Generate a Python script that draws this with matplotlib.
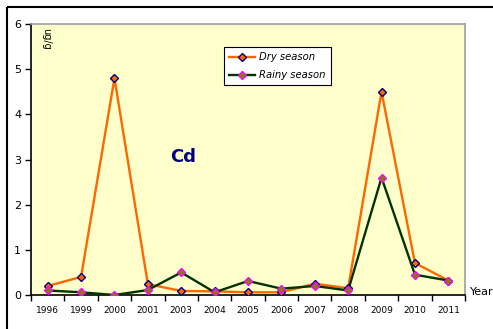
import matplotlib
matplotlib.use("Agg")
import matplotlib.pyplot as plt
from matplotlib.lines import Line2D

years = ["1996", "1999", "2000", "2001", "2003", "2004", "2005", "2006",
         "2007", "2008", "2009", "2010", "2011"]
dry = [0.2, 0.4, 4.8, 0.24, 0.09, 0.08, 0.06, 0.06, 0.25, 0.15, 4.5, 0.71, 0.32]
rainy = [0.1, 0.06, 0.0, 0.11, 0.5, 0.06, 0.31, 0.14, 0.2, 0.1, 2.6, 0.45, 0.32]

W, H = 493, 329
fig = plt.figure(figsize=(W / 100, H / 100), dpi=100)
fig.patch.set_facecolor("white")

# outer frame
fig.add_artist(Line2D([7 / W, 7 / W], [0, 1 - 7 / H], transform=fig.transFigure,
                      color="black", lw=1.5, solid_capstyle="butt"))
fig.add_artist(Line2D([7 / W, 1.01], [1 - 7 / H, 1 - 7 / H], transform=fig.transFigure,
                      color="black", lw=1.5, solid_capstyle="butt"))

left, right, top, bottom = 31, 465, 24, 295
ax = fig.add_axes([left / W, 1 - bottom / H, (right - left) / W, (bottom - top) / H])
ax.set_facecolor("#FFFFCC")

x = list(range(len(years)))
ax.plot(x, dry, color="#FF6600", lw=1.7, marker="D", ms=4,
        mfc="#FF6600", mec="#000080", mew=1.0, label="Dry season", zorder=3)
ax.plot(x, rainy, color="#003300", lw=1.7, marker="D", ms=4,
        mfc="#808000", mec="#FF00FF", mew=1.0, label="Rainy season", zorder=4)

ax.set_xlim(-0.5, len(years) - 0.5)
ax.set_ylim(0, 6)
ax.set_yticks(range(0, 7))
ax.set_xticks([i - 0.5 for i in range(len(years) + 1)])
ax.set_xticklabels([])
ax.set_xticks(x, minor=True)
ax.set_xticklabels(years, minor=True, fontsize=6.5)
ax.tick_params(axis="x", which="minor", length=0, pad=8)
ax.tick_params(axis="x", which="major", length=4, direction="out", width=1)
ax.tick_params(axis="y", length=4, direction="out", width=1, labelsize=8, pad=3)

for s in ["left", "bottom"]:
    ax.spines[s].set_color("black")
    ax.spines[s].set_linewidth(1.2)
for s in ["top", "right"]:
    ax.spines[s].set_color("#A0A0A0")
    ax.spines[s].set_linewidth(1.2)

ax.text(0.035, 0.985, "ug/g", rotation=270, transform=ax.transAxes,
        fontsize=7, va="top", ha="center")
fig.text(183 / W, 1 - 157 / H, "Cd", fontsize=13, fontweight="bold",
         color="#000080", ha="center", va="center")
fig.text(470 / W, 1 - 292 / H, "Year", fontsize=8, ha="left", va="center")

leg = ax.legend(loc="upper left", bbox_to_anchor=((219 - left) / (right - left),
                1 - (42 - top) / (bottom - top)),
                prop={"style": "italic", "size": 7.2}, frameon=True,
                fancybox=False, edgecolor="black", facecolor="white",
                framealpha=1, handlelength=2.6, borderpad=0.5,
                labelspacing=0.8, handletextpad=0.4, markerscale=0.9)
leg.get_frame().set_linewidth(0.8)

fig.savefig("out.png", dpi=100)
